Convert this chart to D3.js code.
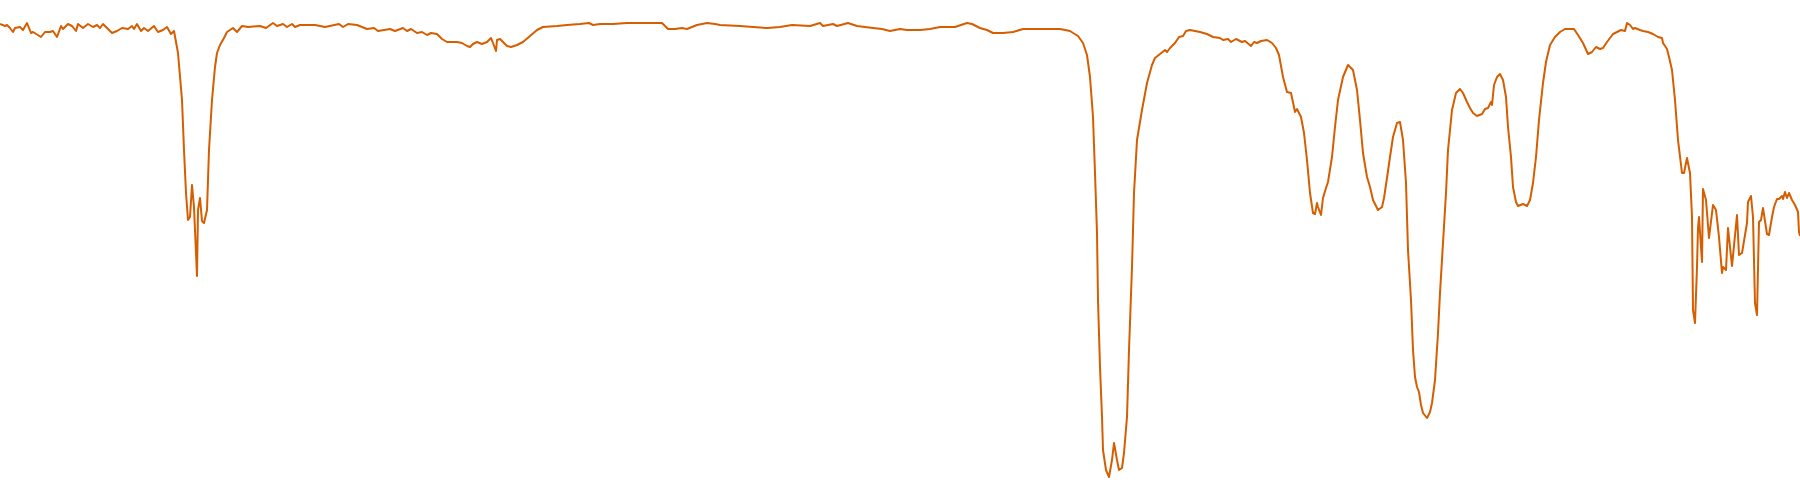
<!DOCTYPE html>
<html>
<head>
<meta charset="utf-8">
<script src="https://cdn.jsdelivr.net/npm/d3@7"></script>
<style>
  html, body { margin: 0; padding: 0; background: #ffffff; }
  svg { display: block; }
</style>
</head>
<body>
<svg id="chart" width="1800" height="500"></svg>
<script>
// Wavenumber (cm^-1)
const wavenumber = [
4000,3990,3986,3980,3974,3970,3960,3954,3946,3938,3934,3918,3910,3900,3894,3886,3878,3874,3864,3856,
3848,3844,3834,3824,3814,3806,3800,3794,3776,3766,3756,3744,3736,3732,3726,3718,3712,3704,3692,3684,
3674,3666,3658,3652,3644,3636,3632,3628,3624,3620,3616,3612,3606,3604,3600,3596,3592,3586,3582,3576,
3570,3566,3560,3552,3546,3540,3534,3526,3516,3504,3480,3468,3454,3446,3434,3426,3416,3410,3400,3370,
3350,3322,3314,3304,3286,3266,3252,3244,3220,3210,3194,3186,3178,3166,3156,3146,3138,3126,3116,3106,
3086,3076,3066,3060,3054,3046,3036,3026,3018,3014,3008,3006,3000,2994,2986,2978,2966,2954,2940,2926,
2914,2886,2866,2840,2822,2814,2800,2774,2746,2700,2676,2670,2664,2650,2636,2626,2606,2586,2570,2560,
2520,2494,2466,2440,2416,2380,2360,2354,2334,2326,2304,2286,2254,2236,2220,2200,2186,2160,2140,2120,
2090,2066,2056,2040,2026,2014,1994,1974,1954,1926,1906,1880,1860,1844,1834,1826,1820,1814,1810,1806,
1804,1800,1796,1794,1788,1782,1776,1772,1766,1762,1756,1752,1746,1742,1736,1732,1726,1716,1706,1696,
1690,1680,1670,1666,1660,1650,1642,1634,1628,1620,1610,1600,1586,1574,1560,1554,1544,1538,1528,1516,
1510,1498,1492,1486,1478,1466,1456,1448,1442,1434,1426,1418,1410,1406,1398,1392,1386,1380,1374,1370,
1366,1364,1358,1354,1348,1344,1336,1330,1324,1314,1304,1294,1286,1280,1274,1266,1260,1254,1244,1236,
1232,1226,1220,1214,1206,1200,1194,1188,1184,1178,1174,1170,1166,1162,1158,1154,1146,1140,1136,1130,
1124,1120,1114,1108,1104,1096,1088,1080,1074,1066,1060,1054,1046,1036,1030,1024,1018,1016,1012,1006,
1000,994,988,984,978,974,968,964,954,946,940,934,928,922,914,908,900,890,880,870,
852,844,834,824,816,808,800,794,786,774,766,758,750,746,740,734,730,720,714,704,
694,684,676,674,666,662,656,650,644,636,632,626,620,616,614,610,606,604,602,596,
594,588,582,574,568,562,556,554,548,544,536,526,522,516,506,504,498,494,490,486,
482,478,474,466,462,456,452,446,442,436,434,430,426,422,416,410,404,402,400
];
// Transmittance (%)
const transmittance = [
95.2,94.8,95.0,94.4,93.6,94.4,94.6,94.0,95.4,93.4,93.6,92.6,93.6,93.6,93.8,92.6,94.8,94.2,95.2,94.8,
93.8,95.2,94.4,95.2,94.6,95.0,94.4,95.2,93.4,93.8,94.4,94.2,94.8,94.2,95.2,93.8,94.4,93.8,94.8,93.6,
94.0,94.6,93.2,93.8,89.4,80.0,70.0,61.4,56.0,56.6,63.0,58.6,44.8,58.0,60.4,55.8,55.4,58.0,70.0,80.0,
86.6,89.4,91.0,92.4,93.6,94.0,94.4,93.6,94.8,94.6,94.8,94.4,95.4,94.8,95.2,94.6,95.2,94.6,95.0,95.0,
94.6,95.2,94.6,95.2,95.0,94.2,94.4,93.8,94.2,93.8,94.4,93.8,94.2,93.4,93.6,93.0,93.4,93.2,92.2,91.6,
91.6,91.4,90.8,90.6,91.2,91.6,91.2,91.6,92.4,91.4,89.8,92.0,92.2,91.6,90.8,90.6,91.0,91.6,92.8,94.0,
94.6,94.8,95.0,95.2,95.4,95.0,95.2,95.2,95.4,95.4,95.4,94.8,94.2,94.2,94.4,94.2,95.0,95.4,95.2,95.0,
94.8,94.6,94.4,94.6,95.0,94.8,95.4,94.8,95.2,94.8,95.4,94.8,94.4,94.2,93.8,94.2,94.0,94.0,94.2,94.6,
94.6,95.4,95.2,94.4,94.0,93.4,93.4,93.6,94.2,94.2,94.2,94.2,93.8,92.8,91.4,89.0,84.6,76.6,65.4,53.4,
40.0,26.6,16.6,10.0,6.0,4.6,8.0,11.4,8.0,6.0,6.4,9.4,16.6,30.0,46.6,61.4,72.0,78.0,83.4,87.0,
88.4,89.2,90.0,89.6,90.4,91.4,92.6,92.8,93.8,94.0,93.8,93.6,93.2,92.6,92.4,92.0,92.2,91.6,92.2,91.6,
91.8,90.8,91.6,91.4,91.8,92.0,91.4,90.4,89.0,84.6,81.6,81.4,77.6,78.2,76.6,73.4,68.0,61.4,57.4,57.2,
59.4,58.6,57.0,60.4,62.4,63.6,68.6,74.6,80.0,84.6,87.0,86.0,82.0,76.0,69.4,64.6,62.6,60.0,58.0,58.6,
60.4,64.4,68.6,72.6,75.4,75.6,72.0,63.4,50.0,40.0,30.0,24.6,22.6,21.6,19.0,17.4,16.4,17.6,19.4,24.0,
33.4,41.4,51.4,61.4,70.0,78.0,81.4,82.2,81.4,79.6,78.4,77.4,76.8,77.2,78.2,78.4,79.6,79.0,83.0,84.6,
85.2,84.0,80.6,74.6,68.6,62.6,59.6,58.8,59.2,58.8,60.0,63.4,68.6,76.0,83.4,87.6,91.0,92.6,93.6,94.2,
94.2,93.0,91.4,89.2,89.6,90.6,90.2,90.4,91.6,93.2,93.6,94.0,93.8,95.4,95.0,94.2,94.4,94.0,93.8,93.6,
93.2,92.6,92.4,91.4,90.2,88.6,86.0,80.0,72.0,65.4,65.4,68.4,65.4,56.6,38.0,35.4,46.6,54.4,56.6,47.6,
62.2,60.0,52.4,59.0,58.0,52.6,45.4,46.6,46.0,54.4,46.8,57.0,49.0,49.4,55.4,59.6,60.8,56.6,39.4,37.0,
55.6,56.0,58.4,53.2,53.0,56.6,58.6,60.2,60.2,60.8,60.2,61.6,60.4,61.4,60.0,59.0,57.6,53.6,52.8
];

const data = wavenumber.map((w, i) => ({ w, t: transmittance[i] }));

const width = 1800, height = 500;
const svg = d3.select("#chart");

const x = d3.scaleLinear().domain([4000, 400]).range([0, width]);
const y = d3.scaleLinear().domain([0, 100]).range([height, 0]);

const line = d3.line()
  .x(d => x(d.w))
  .y(d => y(d.t))
  .curve(d3.curveLinear);

svg.append("path")
  .datum(data)
  .attr("fill", "none")
  .attr("stroke", "#d55e00")
  .attr("stroke-width", 2)
  .attr("stroke-linejoin", "round")
  .attr("d", line);
</script>
</body>
</html>
